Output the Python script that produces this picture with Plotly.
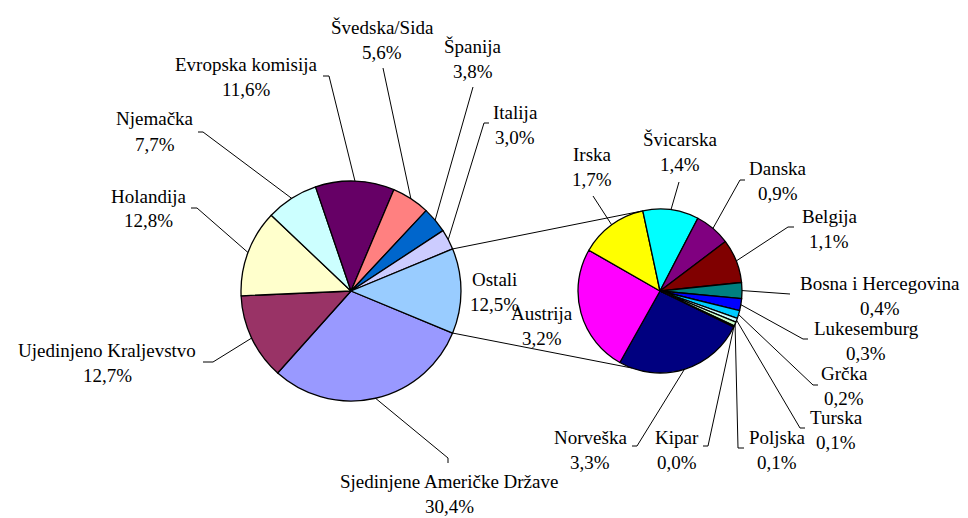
import math
import plotly.graph_objects as go

# ---------------- data ----------------
main_labels = ["Sjedinjene Američke Države", "Ujedinjeno Kraljevstvo", "Holandija",
               "Njemačka", "Evropska komisija", "Švedska/Sida", "Španija", "Italija", "Ostali"]
main_values = [30.4, 12.7, 12.8, 7.7, 11.6, 5.6, 3.8, 3.0, 12.5]

sub_labels = ["Norveška", "Austrija", "Irska", "Švicarska", "Danska", "Belgija",
              "Bosna i Hercegovina", "Lukesemburg", "Grčka", "Turska", "Poljska", "Kipar"]
sub_values = [3.3, 3.2, 1.7, 1.4, 0.9, 1.1, 0.4, 0.3, 0.2, 0.1, 0.1, 0.03]

# ---------------- styles ----------------
main_colors = ["#9999FF", "#993366", "#FFFFCC", "#CCFFFF", "#660066", "#FF8080",
               "#0066CC", "#CCCCFF", "#99CCFF"]
sub_colors = ["#000080", "#FF00FF", "#FFFF00", "#00FFFF", "#800080", "#800000",
              "#008080", "#0000FF", "#00CCFF", "#CCFFFF", "#CCFFCC", "#FFFF99"]

W, H = 968, 518
FONT = "Liberation Serif"
FS = 19
LINE_GAP = 25

MAIN_C, MAIN_R = (351, 291), 110
SUB_C, SUB_R = (660, 291), 82
SUB_START = -26.0           # math angle (deg) where first slice of second pie starts
SUB_LINK_ANGLES = (103.0, -110.0)

# label layout: name-line centre, leader elbow, tick end
main_layout = {
    "Sjedinjene Američke Države": ((449, 481), (448, 458), (448, 463)),
    "Ujedinjeno Kraljevstvo": ((107, 350), (213, 362), (203, 362)),
    "Holandija": ((148, 196), (197, 208), (191, 208)),
    "Njemačka": ((155, 119), (203, 132), (198, 132)),
    "Evropska komisija": ((246, 65), (329, 76), (323, 76)),
    "Švedska/Sida": ((382, 27), (383, 68), None),
    "Španija": ((473, 46), (473, 87), None),
    "Italija": ((515, 112), (484, 123), (489, 123)),
    "Ostali": ((494, 279), None, None),
}
sub_layout = {
    "Norveška": ((590, 437), (637, 446), (632, 446)),
    "Austrija": ((542, 313), None, None),
    "Irska": ((592, 154), (593, 196), None),
    "Švicarska": ((680, 139), (679, 182), None),
    "Danska": ((778, 168), (740, 180), (745, 180)),
    "Belgija": ((829, 216), (788, 227), (794, 227)),
    "Bosna i Hercegovina": ((880, 283), (790, 294), None),
    "Lukesemburg": ((866, 328), (803, 339), (808, 339)),
    "Grčka": ((844, 373), (813, 385), (818, 385)),
    "Turska": ((836, 417), (800, 428), (805, 428)),
    "Poljska": ((777, 437), (738, 448), (744, 448)),
    "Kipar": ((677, 437), (708, 446), (703, 446)),
}


def px(x):
    return x / W


def py(y):
    return 1 - y / H


def domain(c, r):
    return dict(x=[px(c[0] - r), px(c[0] + r)], y=[py(c[1] + r), py(c[1] - r)])


def mid_angles(values, start):
    tot = sum(values)
    out, a = [], start
    for v in values:
        span = v / tot * 360
        out.append(a - span / 2)
        a -= span
    return out


def edge(c, r, ang):
    return (c[0] + r * math.cos(math.radians(ang)), c[1] - r * math.sin(math.radians(ang)))


def fmt(v):
    return f"{v:.1f}".replace(".", ",") + "%"


ostali_span = main_values[-1] / sum(main_values) * 360
main_start = -ostali_span / 2

fig = go.Figure()
line_style = dict(color="black", width=1.3)
fig.add_trace(go.Pie(labels=main_labels, values=main_values, sort=False, direction="clockwise",
                     rotation=90 - main_start, marker=dict(colors=main_colors, line=line_style),
                     textinfo="none", hoverinfo="label+percent", showlegend=False,
                     domain=domain(MAIN_C, MAIN_R)))
fig.add_trace(go.Pie(labels=sub_labels, values=sub_values, sort=False, direction="clockwise",
                     rotation=90 - SUB_START, marker=dict(colors=sub_colors, line=line_style),
                     textinfo="none", hoverinfo="label+value", showlegend=False,
                     domain=domain(SUB_C, SUB_R)))

shapes, annotations = [], []


def seg(p, q):
    shapes.append(dict(type="line", xref="paper", yref="paper",
                       x0=px(p[0]), y0=py(p[1]), x1=px(q[0]), y1=py(q[1]),
                       line=dict(color="black", width=1)))


def add_labels(labels, values, layout, c, r, start):
    for lab, val, ang in zip(labels, values, mid_angles(values, start)):
        (lx, ly), elbow, end = layout[lab]
        for txt, yy in ((lab, ly), (fmt(val), ly + LINE_GAP)):
            annotations.append(dict(x=px(lx), y=py(yy), xref="paper", yref="paper",
                                    text=txt, showarrow=False, xanchor="center", yanchor="middle",
                                    font=dict(family=FONT, size=FS, color="black")))
        if elbow is not None:
            seg(edge(c, r, ang), elbow)
            if end is not None:
                seg(elbow, end)


add_labels(main_labels, main_values, main_layout, MAIN_C, MAIN_R, main_start)
add_labels(sub_labels, sub_values, sub_layout, SUB_C, SUB_R, SUB_START)

# connector lines between the two pies
seg(edge(MAIN_C, MAIN_R, ostali_span / 2), edge(SUB_C, SUB_R, SUB_LINK_ANGLES[0]))
seg(edge(MAIN_C, MAIN_R, -ostali_span / 2), edge(SUB_C, SUB_R, SUB_LINK_ANGLES[1]))

fig.update_layout(width=W, height=H, margin=dict(l=0, r=0, t=0, b=0),
                  paper_bgcolor="white", plot_bgcolor="white",
                  font=dict(family=FONT),
                  shapes=shapes, annotations=annotations)

fig.write_html("out.html", config={"displayModeBar": False},
               post_script="document.body.style.margin='0';document.body.style.padding='0';"
                           "document.body.style.overflow='hidden';")
